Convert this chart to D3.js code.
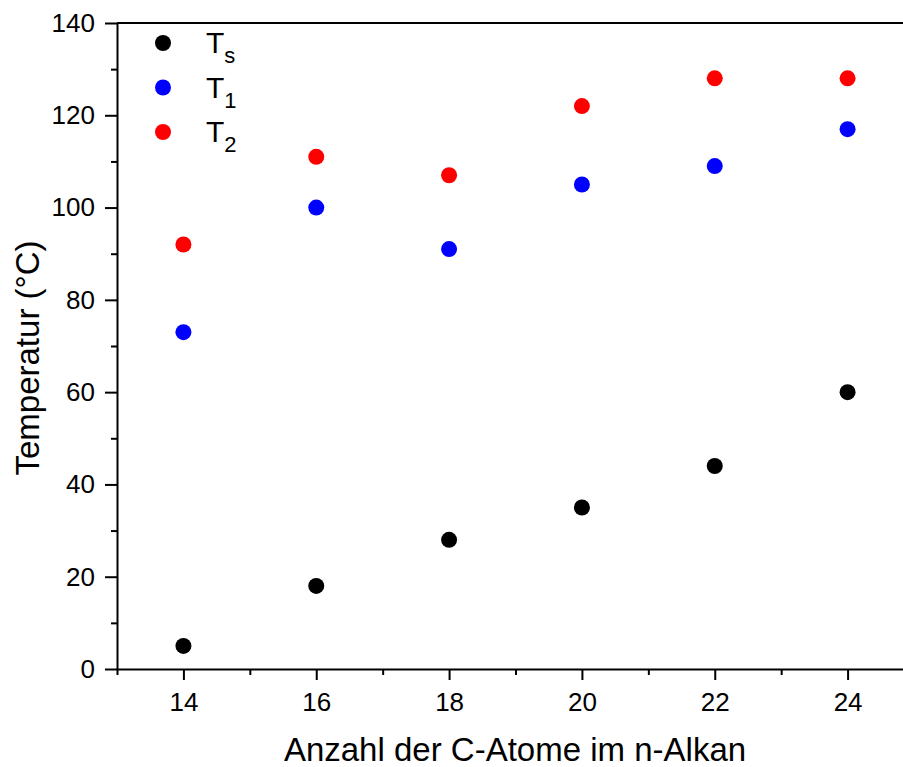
<!DOCTYPE html>
<html>
<head>
<meta charset="utf-8">
<script src="https://cdn.jsdelivr.net/npm/d3@7"></script>
<style>
  html, body { margin: 0; padding: 0; background: #fff; }
  svg { display: block; }
  text { font-family: "Liberation Sans", Arial, sans-serif; fill: #000; }
</style>
</head>
<body>
<script>
// Number of carbon atoms in the n-alkane
const carbons = [14, 16, 18, 20, 22, 24];
// Transition temperatures (°C)
const tsValues = [5, 18, 28, 35, 44, 60];
const t1Values = [73, 100, 91, 105, 109, 117];
const t2Values = [92, 111, 107, 122, 128, 128];

const seriesNames = ["s", "1", "2"];
const seriesColors = ["#000000", "#0000ff", "#ff0000"];

const xMajorTicks = [14, 16, 18, 20, 22, 24];
const xMinorTicks = [13, 15, 17, 19, 21, 23, 25];
const yMajorTicks = [0, 20, 40, 60, 80, 100, 120, 140];
const yMinorTicks = [10, 30, 50, 70, 90, 110, 130];

const W = 903, H = 767;
const plotLeft = 117, plotTop = 23, plotBottom = 669, plotRight = 914;
const fontStack = "Liberation Sans, Arial, sans-serif";

const svg = d3.select("body").append("svg")
  .attr("width", W).attr("height", H);

const x = d3.scaleLinear().domain([13, 25]).range([plotLeft, plotRight]);
const y = d3.scaleLinear().domain([0, 140]).range([plotBottom, plotTop]);

// Frame: top and right borders
svg.append("line").attr("x1", plotLeft).attr("x2", plotRight)
  .attr("y1", plotTop).attr("y2", plotTop)
  .attr("stroke", "#000").attr("stroke-width", 2);
svg.append("line").attr("x1", plotRight).attr("x2", plotRight)
  .attr("y1", plotTop).attr("y2", plotBottom)
  .attr("stroke", "#000").attr("stroke-width", 2);

// Bottom axis: major ticks with labels
const xAxis = svg.append("g")
  .attr("transform", `translate(0,${plotBottom})`)
  .call(d3.axisBottom(x).tickValues(xMajorTicks).tickSize(11).tickPadding(13).tickSizeOuter(0));
// Bottom axis: minor ticks
svg.append("g")
  .attr("transform", `translate(0,${plotBottom})`)
  .call(d3.axisBottom(x).tickValues(xMinorTicks).tickSize(6).tickFormat("").tickSizeOuter(0))
  .select(".domain").remove();

// Left axis: major ticks with labels
const yAxis = svg.append("g")
  .attr("transform", `translate(${plotLeft},0)`)
  .call(d3.axisLeft(y).tickValues(yMajorTicks).tickSize(12).tickPadding(10).tickSizeOuter(0));
// Left axis: minor ticks
svg.append("g")
  .attr("transform", `translate(${plotLeft},0)`)
  .call(d3.axisLeft(y).tickValues(yMinorTicks).tickSize(6).tickFormat("").tickSizeOuter(0))
  .select(".domain").remove();

svg.selectAll(".domain, .tick line")
  .attr("stroke", "#000").attr("stroke-width", 2);
svg.selectAll(".tick text")
  .attr("font-size", 26)
  .attr("font-family", fontStack)
  .attr("fill", "#000");

// Axis titles
svg.append("text")
  .attr("x", 515).attr("y", 761)
  .attr("text-anchor", "middle")
  .attr("font-size", 33)
  .text("Anzahl der C-Atome im n-Alkan");

svg.append("text")
  .attr("transform", "translate(39,358) rotate(-90)")
  .attr("text-anchor", "middle")
  .attr("font-size", 33)
  .text("Temperatur (°C)");

// Scatter points
const series = [tsValues, t1Values, t2Values];
series.forEach((vals, i) => {
  svg.append("g").selectAll("circle")
    .data(carbons.map((c, j) => ({ c, v: vals[j] })))
    .join("circle")
    .attr("cx", d => x(d.c))
    .attr("cy", d => y(d.v))
    .attr("r", 8)
    .attr("fill", seriesColors[i]);
});

// Legend
const legend = svg.append("g");
seriesNames.forEach((name, i) => {
  const ly = 43 + i * 44.5;
  legend.append("circle")
    .attr("cx", 163).attr("cy", ly).attr("r", 8)
    .attr("fill", seriesColors[i]);
  const t = legend.append("text")
    .attr("x", 206).attr("y", ly + 10)
    .attr("font-size", 30);
  t.append("tspan").text("T");
  t.append("tspan").attr("font-size", 22).attr("dy", 10).text(name);
});
</script>
</body>
</html>
